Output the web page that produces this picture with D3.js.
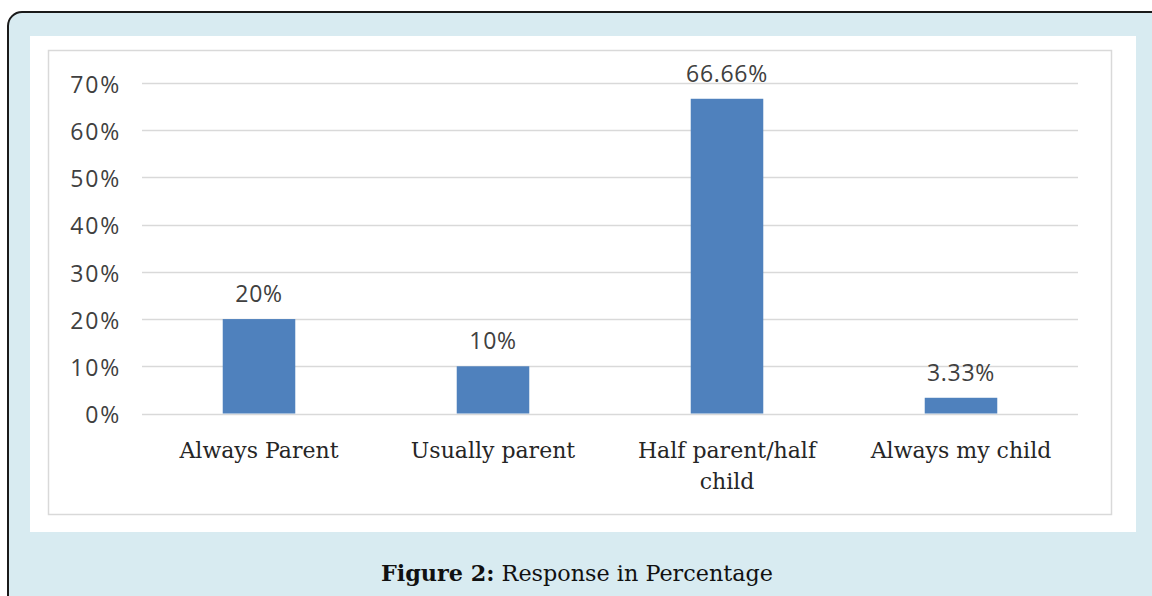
<!DOCTYPE html>
<html>
<head>
<meta charset="utf-8">
<script src="https://cdn.jsdelivr.net/npm/d3@7"></script>
<style>
  body { margin: 0; background: #ffffff; }
  svg { display: block; }
</style>
</head>
<body>
<div id="chart"></div>
<script>
const categories = [["Always Parent"], ["Usually parent"], ["Half parent/half", "child"], ["Always my child"]]
const values = [20, 10, 66.66, 3.33]
const valueLabels = ["20%", "10%", "66.66%", "3.33%"]
const yTicks = [0, 10, 20, 30, 40, 50, 60, 70]

const W = 1152, H = 596

const svg = d3.select('#chart').append('svg')
    .attr('width', W)
    .attr('height', H)

// outer panel with rounded border
svg.append('rect')
    .attr('x', 8).attr('y', 12)
    .attr('width', W + 20).attr('height', H + 20)
    .attr('rx', 14)
    .attr('fill', '#d8ebf1')
    .attr('stroke', '#1a1a1a')
    .attr('stroke-width', 2)

// white picture area
svg.append('rect')
    .attr('x', 30).attr('y', 36)
    .attr('width', 1106).attr('height', 496)
    .attr('fill', '#ffffff')

// chart area border
svg.append('rect')
    .attr('x', 48.5).attr('y', 50.5)
    .attr('width', 1063).attr('height', 464)
    .attr('fill', 'none')
    .attr('stroke', '#d9d9d9')
    .attr('stroke-width', 1.5)

const plot = {left: 142, right: 1078, top: 83, bottom: 413.5}

const x = d3.scaleBand()
    .domain(d3.range(values.length))
    .range([plot.left, plot.right])
    .paddingInner(0.69)
    .paddingOuter(0.345)

const y = d3.scaleLinear()
    .domain([0, 70])
    .range([plot.bottom, plot.top])

// gridlines
const g = svg.append('g')
g.selectAll('line.grid')
    .data(yTicks)
    .join('line')
    .attr('class', 'grid')
    .attr('x1', plot.left).attr('x2', plot.right)
    .attr('y1', d => Math.round(y(d)) + 0.5)
    .attr('y2', d => Math.round(y(d)) + 0.5)
    .attr('stroke', '#d9d9d9')
    .attr('stroke-width', 1.5)

// y axis labels
const yAxis = g.append('g')
    .attr('transform', `translate(${plot.left - 21},0)`)
    .call(d3.axisLeft(y).tickValues(yTicks).tickFormat(d => d + '%').tickSize(0).tickPadding(0))
yAxis.select('.domain').remove()
yAxis.selectAll('text')
    .attr('font-family', '"Open Sans", sans-serif')
    .attr('font-size', 23)
    .attr('letter-spacing', 1.8)
    .attr('fill', '#404040')
    .attr('dy', '0.4em')

// bars
g.selectAll('rect.bar')
    .data(values)
    .join('rect')
    .attr('class', 'bar')
    .attr('x', (d, i) => x(i))
    .attr('width', x.bandwidth())
    .attr('y', d => y(d))
    .attr('height', d => y(0) - y(d))
    .attr('fill', '#4f81bd')

// value labels
g.selectAll('text.val')
    .data(values)
    .join('text')
    .attr('class', 'val')
    .attr('x', (d, i) => x(i) + x.bandwidth() / 2)
    .attr('y', d => y(d) - 17)
    .attr('text-anchor', 'middle')
    .attr('font-family', '"Open Sans", sans-serif')
    .attr('font-size', 23)
    .attr('letter-spacing', 0.7)
    .attr('fill', '#404040')
    .text((d, i) => valueLabels[i])

// category labels
const cat = g.selectAll('text.cat')
    .data(categories)
    .join('text')
    .attr('class', 'cat')
    .attr('text-anchor', 'middle')
    .attr('font-family', '"DejaVu Serif", serif')
    .attr('font-size', 22)
    .attr('fill', '#262626')
cat.selectAll('tspan')
    .data((d, i) => d.map(s => ({s, i})))
    .join('tspan')
    .attr('x', d => x(d.i) + x.bandwidth() / 2)
    .attr('y', (d, j) => 458 + j * 31)
    .text(d => d.s)

// caption
const cap = svg.append('text')
    .attr('x', 577)
    .attr('y', 581)
    .attr('text-anchor', 'middle')
    .attr('font-family', '"DejaVu Serif", serif')
    .attr('font-size', 22.3)
    .attr('fill', '#111')
cap.append('tspan').attr('font-weight', 'bold').text('Figure 2:')
cap.append('tspan').text(' Response in Percentage')
</script>
</body>
</html>
